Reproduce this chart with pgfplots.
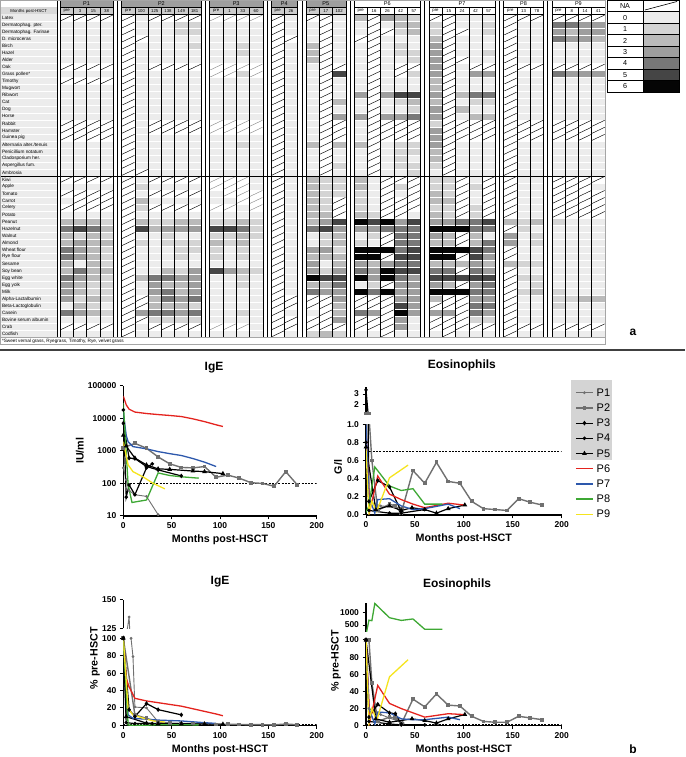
\documentclass[border=0pt]{standalone}
\usepackage{pgfplots}
\pgfplotsset{compat=1.18}
\usepackage{pgfplotstable}
\usepackage{fontspec}
\setmainfont{Liberation Sans}

\definecolor{h0}{gray}{0.925}
\definecolor{h1}{gray}{0.83}
\definecolor{h2}{gray}{0.73}
\definecolor{h3}{gray}{0.62}
\definecolor{h4}{gray}{0.47}
\definecolor{h5}{gray}{0.27}
\definecolor{h6}{gray}{0.02}
\definecolor{cGr}{RGB}{112,112,112}
\definecolor{cP6}{RGB}{228,35,30}
\definecolor{cP7}{RGB}{45,88,172}
\definecolor{cP8}{RGB}{62,168,52}
\definecolor{cP9}{RGB}{245,228,30}

\newcommand\tabfont{\fontsize{4.7}{5}\selectfont}
\newcommand\colfont{\fontsize{4.3}{5}\selectfont}
\newcommand\hdfont{\fontsize{5.5}{6}\selectfont}
\newcommand\legfont{\fontsize{7.2}{8}\selectfont}
\newcommand\tickfont{\fontsize{8.5}{9}\selectfont\bfseries}
\newcommand\labfont{\fontsize{10.7}{12}\selectfont\bfseries}
\newcommand\titfont{\fontsize{12}{14}\selectfont\bfseries}

\pgfdeclareplotmark{hcell}{\pgfpathrectangle{\pgfqpoint{-6.65pt}{-3.51pt}}{\pgfqpoint{13.3pt}{7.02pt}}\pgfusepathqfillstroke}
\pgfdeclareplotmark{hna}{\pgfpathrectangle{\pgfqpoint{-6.65pt}{-3.51pt}}{\pgfqpoint{13.3pt}{7.02pt}}\pgfsetfillcolor{white}\pgfusepathqfillstroke
 \pgfsetstrokecolor{black}\pgfsetlinewidth{0.45pt}\pgfpathmoveto{\pgfqpoint{-6.3pt}{-3.0pt}}\pgfpathlineto{\pgfqpoint{6.3pt}{3.0pt}}\pgfusepathqstroke}
\pgfdeclareplotmark{hga}{\pgfpathrectangle{\pgfqpoint{-6.65pt}{-3.51pt}}{\pgfqpoint{13.3pt}{7.02pt}}\pgfsetfillcolor{white}\pgfusepathqfillstroke
 \pgfsetstrokecolor{black!45}\pgfsetlinewidth{0.45pt}\pgfpathmoveto{\pgfqpoint{-6.3pt}{-3.0pt}}\pgfpathlineto{\pgfqpoint{6.3pt}{3.0pt}}\pgfusepathqstroke}
\pgfdeclareplotmark{lcell}{\pgfpathrectangle{\pgfqpoint{-18pt}{-5.72pt}}{\pgfqpoint{36pt}{11.45pt}}\pgfusepathqfillstroke}
\pgfdeclareplotmark{lna}{\pgfpathrectangle{\pgfqpoint{-18pt}{-5.72pt}}{\pgfqpoint{36pt}{11.45pt}}\pgfsetfillcolor{white}\pgfusepathqfillstroke
 \pgfpathmoveto{\pgfqpoint{-16pt}{-4pt}}\pgfpathlineto{\pgfqpoint{16pt}{4.5pt}}\pgfusepathqstroke}

\pgfplotsset{
 hm/.style={scatter, only marks, point meta=explicit symbolic, scatter/classes={
  N={mark=hna,draw=white,line width=0.5pt},
  g={mark=hga,draw=white,line width=0.5pt},
  0={mark=hcell,fill=h0,draw=white,line width=0.5pt},
  1={mark=hcell,fill=h1,draw=white,line width=0.5pt},
  2={mark=hcell,fill=h2,draw=white,line width=0.5pt},
  3={mark=hcell,fill=h3,draw=white,line width=0.5pt},
  4={mark=hcell,fill=h4,draw=white,line width=0.5pt},
  5={mark=hcell,fill=h5,draw=white,line width=0.5pt},
  6={mark=hcell,fill=h6,draw=white,line width=0.5pt}}},
 lg/.style={scatter, only marks, point meta=explicit symbolic, scatter/classes={
  N={mark=lna,draw=black,line width=0.6pt},
  0={mark=lcell,fill=h0,draw=black,line width=0.6pt},
  1={mark=lcell,fill=h1,draw=black,line width=0.6pt},
  2={mark=lcell,fill=h2,draw=black,line width=0.6pt},
  3={mark=lcell,fill=h3,draw=black,line width=0.6pt},
  4={mark=lcell,fill=h4,draw=black,line width=0.6pt},
  5={mark=lcell,fill=h5,draw=black,line width=0.6pt},
  6={mark=lcell,fill=h6,draw=black,line width=0.6pt}}},
 prism/.style={scale only axis, axis x line*=bottom, axis y line*=left,
  axis line style={line width=1.2pt,-}, x axis line style={-}, y axis line style={-},
  tick style={line width=1pt,black}, major tick length=3.5pt, tick align=outside,
  xmin=0, xmax=200, xtick={0,50,100,150,200},
  /pgf/number format/assume math mode=true,
  xticklabel style={font=\tickfont}, yticklabel style={font=\tickfont},
  every axis title/.style={font=\titfont, anchor=center},
  every axis x label/.style={at={(axis description cs:0.5,0)}, anchor=center, yshift=-24pt, font=\labfont}},
 brk/.style={prism, axis x line=none, xtick=\empty},
 refline/.style={black, line width=1.1pt, dash pattern=on 2pt off 1.3pt, forget plot},
 sP1/.style={color=cGr, line width=0.9pt, mark=*, mark size=0.9pt},
 sP2/.style={color=cGr, line width=1.4pt, mark=square*, mark size=1.2pt},
 sP3/.style={black, line width=1.2pt, mark=diamond*, mark size=1.4pt},
 sP4/.style={black, line width=1.2pt, mark=*, mark size=1.1pt},
 sP5/.style={black, line width=1.2pt, mark=triangle*, mark size=1.6pt},
 sP6/.style={cP6, line width=1.3pt, no markers},
 sP7/.style={cP7, line width=1.3pt, no markers},
 sP8/.style={cP8, line width=1.3pt, no markers},
 sP9/.style={cP9, line width=1.3pt, no markers},
}

\pgfplotstableread{
c1 c2 c3 c4 c5 c6 c7 c8 c9 c10 c11 c12 c13 c14 c15 c16 c17 c18 c19 c20 c21 c22 c23 c24 c25 c26 c27 c28 c29 c30 c31 c32 c33 c34 c35 c36
N N N N  N 0 N N N N  g g g g  N 0  N N 0  2 N 3 2 1  N N 0 0 0  N N N  N N N N
0 0 0 0  N 0 0 0 1 1  0 0 0 0  N 0  0 N 0  0 N 0 2 2  1 N 0 0 1  N 0 0  4 4 3 3
0 0 0 0  N 0 0 0 1 1  0 0 0 0  N 0  0 N 0  0 N N 1 2  1 N N 0 1  N 0 0  3 2 3 3
0 0 0 0  N N 0 0 0 0  0 0 0 0  N N  0 N 0  N N 0 0 0  2 N 0 0 0  N 0 0  4 3 3 2
0 0 0 0  N 0 0 0 0 1  0 0 1 0  N 0  2 N 0  0 N 0 1 0  3 N 0 0 0  N 0 0  0 0 0 0
0 0 0 0  N 0 0 0 0 0  0 0 1 0  N 0  2 N 0  0 N 0 1 1  3 N 0 0 1  N 0 0  0 0 0 0
0 0 0 0  N 0 0 0 0 0  0 0 0 0  N 0  2 N 0  0 N 0 0 1  3 N N 0 0  N 0 0  0 0 0 0
N N N N  N 0 N N N N  g g g g  N 0  0 N N  0 N 0 N N  3 N 0 N N  N N N  N N N N
0 0 0 0  N 0 0 0 0 0  g g 1 g  N 0  0 N 5  0 N 0 N 1  3 N 0 3 3  N 0 0  4 3 3 3
N N N N  N 0 0 0 0 0  0 0 0 0  N 0  0 N 0  0 N 0 0 0  2 N 0 0 0  N 0 0  0 0 0 0
0 0 0 0  N 0 0 0 0 0  0 0 0 0  N 0  0 N 0  0 N 0 0 0  2 N 0 0 0  N 0 0  0 0 0 0
0 0 0 0  N 0 0 0 0 0  0 0 0 0  N 0  0 N 0  3 N 3 5 5  3 N 2 4 4  N 0 0  0 0 0 0
0 0 0 0  N 0 0 0 0 0  0 0 0 0  N 0  0 N 2  0 N 0 1 2  2 N 0 1 1  N 0 0  0 0 0 0
0 0 0 0  N 0 0 0 0 0  0 0 0 0  N 0  0 N 0  0 N 0 0 1  3 N 2 0 0  N 0 0  0 0 0 0
0 0 0 0  N 0 0 0 0 0  0 0 0 0  N 0  0 N 3  3 N 3 3 4  3 N 0 2 2  N 0 0  0 0 0 0
N N N N  N 0 N N N N  g g g g  N 0  0 N N  0 N N N N  1 N N N N  N N N  N N N N
N N N N  N 0 N N N N  g g g g  N 0  0 N N  0 N N N N  3 N N N N  N N N  N N N N
N N N N  N 0 0 0 0 0  0 0 0 0  N 0  0 N N  0 N N N N  3 N N N N  N N N  N N N N
0 0 0 0  N 0 0 0 0 0  0 0 1 0  N 0  2 N 2  2 N 0 1 1  3 N 0 0 0  N 0 0  0 0 0 0
0 0 0 0  N 0 0 0 0 0  0 0 0 0  N 0  0 N 0  0 N 0 1 1  2 N 0 0 0  N 0 0  0 0 0 0
0 0 0 0  N 0 0 0 0 0  0 0 0 0  N 0  0 N 0  0 N 0 1 0  2 N 0 0 0  N 0 0  0 0 0 0
0 0 0 0  N 0 0 0 0 0  0 0 0 0  N 0  0 N 1  0 N 0 1 1  1 N 0 0 0  N 0 0  0 0 0 0
0 0 0 0  N N 0 0 0 0  0 0 0 0  N 0  0 N 0  0 N 0 0 1  0 N 0 0 0  N 0 0  0 0 0 0
N N N N  N 0 N N N N  g g g 0  N 0  2 1 1  2 0 N N N  1 1 N 0 N  N 0 0  N N N N
0 0 0 0  N 1 0 0 0 0  g g g 0  N 0  2 1 1  2 0 N 1 N  1 1 N 1 N  N 0 0  N N N 0
N N N N  N 0 N N N N  0 g g g  N 0  2 1 1  1 0 N 0 N  2 1 N 0 N  N 0 0  N N N N
0 N N N  N 2 0 0 0 0  0 0 g g  N 0  2 1 N  1 0 N N N  2 2 N 0 N  N 0 0  N N N N
N N N N  N 1 N N N N  g g 0 g  N 0  2 1 N  1 0 N N N  1 1 N 1 N  N 0 0  N N N N
0 0 0 0  N 0 0 0 0 0  0 0 0 0  N 0  2 2 N  2 1 N N 0  2 1 N 1 N  N 0 0  N N N N
2 2 2 1  N 2 1 1 2 2  1 1 2 1  N 0  2 3 5  6 5 6 3 5  3 3 4 4 5  2 1 2  1 0 0 0
4 5 4 2  N 5 2 3 3 3  5 5 4 1  N 0  4 5 3  3 3 4 4 4  6 6 6 4 4  N 1 0  0 0 0 0
2 1 2 1  N 0 0 1 0 0  1 1 2 1  N 0  0 1 2  0 1 N 4 4  3 2 N 2 0  3 0 1  0 0 0 0
2 3 2 2  N 1 0 1 1 1  2 1 2 0  N 0  0 1 2  1 0 N 4 4  2 2 N 2 4  3 0 1  0 0 0 0
4 3 2 1  N 0 0 0 1 1  1 0 1 0  N 0  3 3 1  6 6 6 4 5  6 6 6 5 4  N 0 0  0 0 0 0
4 3 2 1  N 0 0 0 1 0  1 0 1 0  N 0  2 2 2  6 6 N 5 5  6 6 N 5 3  N 0 0  0 0 0 0
2 0 2 1  N 0 0 0 0 0  0 0 0 0  N 0  3 0 2  3 2 3 4 4  2 2 2 3 2  2 1 1  0 0 0 0
2 4 2 2  N 0 0 2 1 3  5 3 2 1  N 0  3 1 3  4 3 6 5 5  4 4 N 4 3  N 0 0  0 0 0 0
4 3 2 1  N 2 4 4 3 3  0 0 1 0  N 0  6 5 5  6 3 6 4 3  5 5 5 5 5  N 1 1  0 0 0 0
3 2 1 1  N 0 3 2 2 3  0 0 1 0  N 0  2 2 4  0 1 N 3 3  3 2 N 3 4  N 0 1  0 0 0 0
3 2 1 1  N 0 3 4 2 3  0 0 0 0  N 0  4 3 3  6 4 6 3 3  6 6 6 4 4  N 1 2  1 0 0 0
3 1 2 1  N N 2 4 3 4  0 0 0 0  N N  N N 3  N N N 3 3  2 N N 3 3  N 0 0  1 1 2 2
0 2 1 0  N N 2 2 2 1  0 0 0 0  N N  N N 2  N N N 5 3  N N N 4 4  N 0 0  1 0 0 0
4 3 2 1  N 3 4 4 3 4  0 0 1 0  N 0  0 N 2  4 3 N 6 3  3 3 N 4 3  N 0 0  0 0 0 0
0 0 0 0  N N 1 1 1 1  0 0 0 0  N N  N N 3  N N N 3 0  N N N 1 1  N 0 0  0 0 0 0
N N N N  N 0 N N N N  g g g 0  N N  N N N  N N N 3 0  N N N N N  N N N  N N N N
0 0 0 0  N 0 0 0 0 0  0 0 0 0  N 0  1 2 1  0 0 N 0 0  0 N 0 0 0  N 0 0  0 0 0 0
}\heat

\pgfplotstableread{
x y v
661 -6 N
661 -17.45 0
661 -28.9 1
661 -40.35 2
661 -51.8 3
661 -63.25 4
661 -74.7 5
661 -86.15 6
}\legtab

% Eosinophils (G/l)
\pgfplotstableread{
x y
0 1.1
3 0.15
15 0.1
38 0.08
}\eoA
\pgfplotstableread{
x y
0 1.1
3 1.1
6 0.6
12 0.05
24 0.12
30 0.1
36 0.02
48 0.49
60 0.35
72 0.58
84 0.37
96 0.35
108 0.15
120 0.07
132 0.06
144 0.05
156 0.18
168 0.14
180 0.11
}\eoB
\pgfplotstableread{
x y
0 3.4
3 0.15
12 0.38
24 0.31
36 0.04
}\eoC
\pgfplotstableread{
x y
0 0.8
3 0.05
24 0.02
36 0.02
60 0.06
}\eoD
\pgfplotstableread{
x y
0 0.75
10 0.06
24 0.1
36 0.05
47 0.08
60 0.06
72 0.02
84 0.07
101 0.11
}\eoE
\pgfplotstableread{
x y
0 0.95
4 0.05
12 0.43
24 0.23
36 0.17
48 0.12
60 0.08
84 0.13
100 0.11
}\eoF
\pgfplotstableread{
x y
0 1.0
3 0.2
9 0.02
12 0.17
24 0.18
36 0.1
48 0.06
60 0.07
84 0.12
96 0.07
}\eoG
\pgfplotstableread{
x y
0 0.03
3 0.1
9 0.53
24 0.32
36 0.27
48 0.29
60 0.12
78 0.12
}\eoH
\pgfplotstableread{
x y
0 0.73
3 0.02
6 0.15
11 0.04
24 0.41
43 0.55
}\eoI

% IgE % pre-HSCT
\pgfplotstableread{
x y
0 100
6 135
8 100
10 79
12 21
24 20
36 4
}\ipA
\pgfplotstableread{
x y
0 100
12 12
24 8
36 4
48 2.5
60 2
72 2
84 2
96 1
108 1.2
120 1
132 0.7
144 0.7
156 0.5
168 1.5
180 0.6
}\ipB
\pgfplotstableread{
x y
0 100
6 18
12 10
24 25
36 18
60 12
}\ipC
\pgfplotstableread{
x y
0 100
3 3
12 2
30 2
}\ipD
\pgfplotstableread{
x y
0 100
3 10
24 2.5
36 2
60 1.8
84 1.5
103 1.3
}\ipE
\pgfplotstableread{
x y
0 100
3 54
6 44
12 31
24 28
36 26
48 24
60 22
72 19
84 16
96 13
103 11
}\ipF
\pgfplotstableread{
x y
0 100
5 12
10 8
24 7
36 6
48 5.5
60 5
72 4
84 3
96 2.2
}\ipG
\pgfplotstableread{
x y
0 100
5 0.3
9 0.1
24 0.1
36 0.7
48 0.6
60 0.55
78 0.5
}\ipH
\pgfplotstableread{
x y
0 100
5 19
10 12
21 8
31 5
43 3.7
}\ipI

% Eosinophils % pre-HSCT
\pgfplotstableread{
x y
0 100
3 20
15 13
38 3
}\epA
\pgfplotstableread{
x y
0 100
3 100
6 50
12 5
24 10
30 9
36 2
48 31
60 22
72 37
84 24
96 23
108 11
120 5
132 4
144 4
156 11
168 9
180 7
}\epB
\pgfplotstableread{
x y
0 100
3 10
12 25
24 15
30 14
36 2
}\epC
\pgfplotstableread{
x y
0 100
3 5
24 2
36 1
60 1
}\epD
\pgfplotstableread{
x y
0 100
10 8
24 4
47 8
60 6
72 3
84 8
101 13
}\epE
\pgfplotstableread{
x y
0 100
4 5
12 47
24 26
36 20
48 15
60 10
84 14
100 13
}\epF
\pgfplotstableread{
x y
0 100
3 20
9 2
12 16
24 15
36 8
48 7
60 7
84 10
96 7
}\epG
\pgfplotstableread{
x y
0 100
3 700
6 680
9 1380
24 800
36 690
48 750
60 330
78 330
}\epH
\pgfplotstableread{
x y
0 100
3 3
6 20
11 6
24 57
43 77
}\epI

\newcommand\hcol[2]{\addplot[hm] table[x expr=#2, y expr={-18-7.02*\coordindex}, meta=#1] {\heat};}

\begin{document}
\begin{tikzpicture}
\path[use as bounding box] (0pt,0pt) rectangle (685pt,757pt);

% ---------------- panel a: heat map cells ----------------
\begin{axis}[at={(0pt,407pt)}, anchor=south west, scale only axis, width=685pt, height=350pt,
  xmin=0, xmax=685, ymin=-350, ymax=0, hide axis, clip=false]
\hcol{c1}{66.65}\hcol{c2}{79.95}\hcol{c3}{93.25}\hcol{c4}{106.55}
\hcol{c5}{128.13}\hcol{c6}{141.43}\hcol{c7}{154.73}\hcol{c8}{168.03}\hcol{c9}{181.33}\hcol{c10}{194.63}
\hcol{c11}{216.2}\hcol{c12}{229.5}\hcol{c13}{242.8}\hcol{c14}{256.1}
\hcol{c15}{277.68}\hcol{c16}{290.98}
\hcol{c17}{312.55}\hcol{c18}{325.85}\hcol{c19}{339.15}
\hcol{c20}{360.73}\hcol{c21}{374.03}\hcol{c22}{387.33}\hcol{c23}{400.63}\hcol{c24}{413.93}
\hcol{c25}{435.5}\hcol{c26}{448.8}\hcol{c27}{462.1}\hcol{c28}{475.4}\hcol{c29}{488.7}
\hcol{c30}{510.28}\hcol{c31}{523.58}\hcol{c32}{536.88}
\hcol{c33}{558.45}\hcol{c34}{571.75}\hcol{c35}{585.05}\hcol{c36}{598.35}
\addplot[lg] table[x=x, y=y, meta=v] {\legtab};
\end{axis}

% ---------------- panel a: table structure and text ----------------
\begin{scope}[x=1pt, y=-1pt, shift={(0pt,757pt)}]
 \fill[h0] (0.5,14.5) rectangle (57,337.42);
 \foreach \i in {1,...,45} \draw[white, line width=0.5pt] (0.5,{14.5+7.02*\i}) -- (57,{14.5+7.02*\i});
 \foreach \s/\n in {60/4,121.475/6,209.55/4,271.025/2,305.9/3} {
   \fill[black!38] (\s,0.5) rectangle ({\s+\n*13.3},7.5);
   \fill[black!20] (\s,7.5) rectangle ({\s+\n*13.3},14.5);
 }
 \fill[black!15] (0.5,7.5) rectangle (57,14.5);
 \foreach \s/\n in {60/4,121.475/6,209.55/4,271.025/2,305.9/3,354.075/5,428.85/5,503.625/3,551.8/4} {
   \draw[line width=0.45pt] (\s,0.5) rectangle ({\s+\n*13.3},7.5);
   \draw[line width=0.45pt] (\s,14.5) -- ({\s+\n*13.3},14.5);
   \foreach \k in {0,...,\n} \draw[line width=0.45pt] ({\s+\k*13.3},7.5) -- ({\s+\k*13.3},337.42);
 }
 \foreach \e in {113.2,201.275,262.75,297.625,345.8,420.575,495.35,543.525}
   \draw[line width=0.45pt] ({\e+4.1},0.5) -- ({\e+4.1},337.42);
 \draw[line width=0.45pt] (57,0.5) -- (57,337.42);
 \draw[black!35, line width=0.4pt] (0.5,0.5) rectangle (605,344.5);
 \draw[black!35, line width=0.4pt] (0.5,337.42) -- (605,337.42);
 \draw[line width=0.9pt] (0.5,175.96) -- (605,175.96);
 % header texts
 \foreach \x/\t in {86.6/P1,161.375/P2,236.15/P3,284.325/P4,325.85/P5,387.325/P6,462.1/P7,523.575/P8,578.4/P9}
   \node[font=\hdfont, inner sep=0pt] at (\x,4) {\t};
 \foreach \x/\t in {66.65/pre,79.95/3,93.25/15,106.55/38,
   128.13/pre,141.43/100,154.73/125,168.03/138,181.33/149,194.63/181,
   216.2/pre,229.5/1,242.8/33,256.1/60, 277.68/pre,290.98/26,
   312.55/pre,325.85/17,339.15/102,
   360.73/pre,374.03/16,387.33/26,400.63/42,413.93/57,
   435.5/pre,448.8/15,462.1/24,475.4/42,488.7/57,
   510.28/pre,523.58/13,536.88/78,
   558.45/pre,571.75/8,585.05/14,598.35/41}
   \node[font=\colfont, inner sep=0pt] at (\x,11.2) {\t};
 \node[font=\colfont, inner sep=0pt] at (28.75,11.2) {Months post-HSCT};
 \foreach \n [count=\i from 0] in {Latex,Dermatophag. pter.,Dermatophag. Farinae,D. microceras,Birch,Hazel,Alder,Oak,Grass pollen*,Timothy,Mugwort,Ribwort,Cat,Dog,Horse,Rabbit,Hamster,Guinea pig,Alternaria alter./tenuis,Penicillium notatum,Cladosporium her.,Aspergillus fum.,Ambrosia,Kiwi,Apple,Tomato,Carrot,Celery,Potato,Peanut,Hazelnut,Walnut,Almond,Wheat flour,Rye flour,Sesame,Soy bean,Egg white,Egg yolk,Milk,Alpha-Lactalbumin,Beta-Lactoglobulin,Casein,Bovine serum albumin,Crab,Codfish}
   \node[font=\tabfont, anchor=west, inner sep=0pt] at (1.8,{18.1+7.02*\i}) {\n};
 \node[font=\tabfont, anchor=west, inner sep=0pt] at (1.8,341.1) {*Sweet vernal grass, Ryegrass, Timothy, Rye, velvet grass};
 % colour key
 \foreach \t [count=\k from 0] in {NA,0,1,2,3,4,5,6} {
   \draw[line width=0.6pt] (607,{0.28+11.45*\k}) rectangle (643,{11.73+11.45*\k});
   \node[font=\legfont, inner sep=0pt] at (625,{6.2+11.45*\k}) {\t};
 }
 \node[font=\titfont] at (633,332) {a};
 \draw[line width=1.4pt, black!75] (0,350) -- (685,350);
 \node[font=\titfont] at (633,749) {b};
 \fill[black!17] (570.7,380) rectangle (611.7,460);
\end{scope}

% ---------------- panel b: IgE (IU/ml) ----------------
\begin{axis}[prism, at={(123.3pt,241pt)}, anchor=south west, width=193.4pt, height=130.3pt,
  ymode=log, ymin=10, ymax=100000, ytick={10,100,1000,10000,100000},
  yticklabels={10,100,1000,10000,100000}, yminorticks=false,
  title={IgE}, title style={at={(axis description cs:0.469,1.136)}},
  xlabel={Months post-HSCT}, ylabel={IU/ml},
  every axis y label/.style={at={(axis description cs:-0.225,0.5)}, rotate=90, anchor=center, font=\labfont}]
 \addplot[refline] coordinates {(0,100) (200,100)};
 \addplot[sP1] coordinates {(0,300) (3,130) (6,60) (12,45) (24,40) (36,11)};
 \addplot[sP2] coordinates {(0,1250) (12,1700) (24,1200) (36,650) (48,400) (60,310) (72,300) (84,330) (96,155) (108,180) (120,145) (132,105) (144,100) (156,82) (168,230) (180,90)};
 \addplot[sP3] coordinates {(0,7000) (6,600) (12,580) (24,330) (36,260) (60,170)};
 \addplot[sP4] coordinates {(0,18000) (3,38) (6,90) (12,45) (24,300) (30,400)};
 \addplot[sP5] coordinates {(0,3000) (3,1400) (12,600) (24,370) (36,280) (48,270) (72,240) (84,230) (103,200)};
 \addplot[sP6] coordinates {(0,48000) (3,26000) (6,19000) (12,15500) (24,14000) (36,13000) (48,12200) (60,11300) (72,9600) (84,7900) (96,6300) (103,5600)};
 \addplot[sP7] coordinates {(0,15000) (3,3000) (5,1900) (10,1350) (24,1150) (36,950) (48,820) (60,720) (72,580) (84,450) (96,330)};
 \addplot[sP8] coordinates {(0,29000) (5,90) (9,26) (24,31) (36,210) (48,175) (60,160) (78,145)};
 \addplot[sP9] coordinates {(0,1900) (5,370) (10,230) (21,155) (31,100) (43,68)};
\end{axis}

% ---------------- panel b: Eosinophils (G/l) ----------------
\begin{axis}[prism, at={(366pt,242pt)}, anchor=south west, width=195.7pt, height=90.7pt,
  ymin=0, ymax=1, ytick={0,0.2,0.4,0.6,0.8,1.0}, yticklabels={0.0,0.2,0.4,0.6,0.8,1.0},
  title={Eosinophils}, title style={at={(axis description cs:0.49,1.654)}},
  xlabel={Months post-HSCT}, ylabel={G/l},
  every axis y label/.style={at={(axis description cs:-0.143,0.53)}, rotate=90, anchor=center, font=\labfont},
  legend style={at={(axis description cs:1.068,1.40)}, anchor=north west, draw=none, fill=none,
    font=\fontsize{11}{11}\selectfont, inner sep=0pt, row sep=6.2pt, column sep=3pt,
    nodes={inner sep=0pt, text height=8pt, text depth=1pt}},
  legend cell align=left]
 \addplot[refline] coordinates {(0,0.7) (200,0.7)};
 \addplot[sP1] table {\eoA}; \addlegendentry{P1}
 \addplot[sP2] table {\eoB}; \addlegendentry{P2}
 \addplot[sP3] table {\eoC}; \addlegendentry{P3}
 \addplot[sP4] table {\eoD}; \addlegendentry{P4}
 \addplot[sP5] table {\eoE}; \addlegendentry{P5}
 \addplot[sP6] table {\eoF}; \addlegendentry{P6}
 \addplot[sP7] table {\eoG}; \addlegendentry{P7}
 \addplot[sP8] table {\eoH}; \addlegendentry{P8}
 \addplot[sP9] table {\eoI}; \addlegendentry{P9}
\end{axis}
\begin{axis}[brk, at={(366pt,343.4pt)}, anchor=south west, width=195.7pt, height=26.8pt,
  ymin=1.1, ymax=3.7, ytick={2,3}]
 \addplot[sP1] table {\eoA}; \addplot[sP2] table {\eoB}; \addplot[sP3] table {\eoC};
 \addplot[sP4] table {\eoD}; \addplot[sP5] table {\eoE}; \addplot[sP6] table {\eoF};
 \addplot[sP7] table {\eoG}; \addplot[sP8] table {\eoH}; \addplot[sP9] table {\eoI};
\end{axis}

% ---------------- panel b: IgE % pre-HSCT ----------------
\begin{axis}[prism, at={(123.3pt,31.7pt)}, anchor=south west, width=193.4pt, height=87pt,
  ymin=0, ymax=100, ytick={0,20,40,60,80,100},
  title={IgE}, title style={at={(axis description cs:0.5,1.647)}},
  xlabel={Months post-HSCT}, ylabel={\% pre-HSCT},
  every axis y label/.style={at={(axis description cs:-0.146,0.77)}, rotate=90, anchor=center, font=\labfont}]
 \addplot[refline] coordinates {(0,0.8) (200,0.8)};
 \addplot[sP1] table {\ipA}; \addplot[sP2] table {\ipB}; \addplot[sP3] table {\ipC};
 \addplot[sP4] table {\ipD}; \addplot[sP5] table {\ipE}; \addplot[sP6] table {\ipF};
 \addplot[sP7] table {\ipG}; \addplot[sP8] table {\ipH}; \addplot[sP9] table {\ipI};
\end{axis}
\begin{axis}[brk, at={(123.3pt,128.7pt)}, anchor=south west, width=193.4pt, height=28.3pt,
  ymin=125, ymax=150, ytick={125,150}]
 \addplot[sP1] table {\ipA}; \addplot[sP2] table {\ipB}; \addplot[sP3] table {\ipC};
 \addplot[sP4] table {\ipD}; \addplot[sP5] table {\ipE}; \addplot[sP6] table {\ipF};
 \addplot[sP7] table {\ipG}; \addplot[sP8] table {\ipH}; \addplot[sP9] table {\ipI};
\end{axis}

% ---------------- panel b: Eosinophils % pre-HSCT ----------------
\begin{axis}[prism, at={(366pt,31.3pt)}, anchor=south west, width=195.7pt, height=85.7pt,
  ymin=0, ymax=100, ytick={0,20,40,60,80,100},
  title={Eosinophils}, title style={at={(axis description cs:0.465,1.653)}},
  xlabel={Months post-HSCT}, ylabel={\% pre-HSCT},
  every axis y label/.style={at={(axis description cs:-0.153,0.755)}, rotate=90, anchor=center, font=\labfont}]
 \addplot[refline] coordinates {(0,0.8) (200,0.8)};
 \addplot[sP1] table {\epA}; \addplot[sP2] table {\epB}; \addplot[sP3] table {\epC};
 \addplot[sP4] table {\epD}; \addplot[sP5] table {\epE}; \addplot[sP6] table {\epF};
 \addplot[sP7] table {\epG}; \addplot[sP8] table {\epH}; \addplot[sP9] table {\epI};
\end{axis}
\begin{axis}[brk, at={(366pt,125.3pt)}, anchor=south west, width=195.7pt, height=28.7pt,
  ymin=230, ymax=1400, ytick={500,1000}, yticklabels={500,1000}]
 \addplot[sP1] table {\epA}; \addplot[sP2] table {\epB}; \addplot[sP3] table {\epC};
 \addplot[sP4] table {\epD}; \addplot[sP5] table {\epE}; \addplot[sP6] table {\epF};
 \addplot[sP7] table {\epG}; \addplot[sP8] table {\epH}; \addplot[sP9] table {\epI};
\end{axis}
\end{tikzpicture}
\end{document}
